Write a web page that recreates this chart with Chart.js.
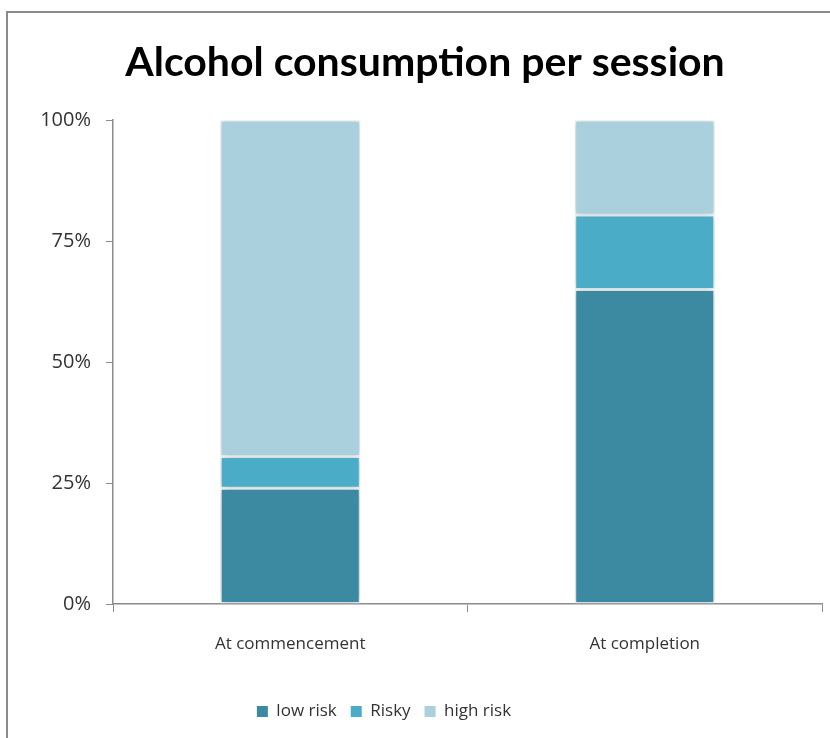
<!DOCTYPE html>
<html>
<head>
<meta charset="utf-8">
<style>
  html, body { margin: 0; padding: 0; background: #fff; overflow: hidden; }
  #wrap { position: absolute; left: 0; top: 0; width: 830px; height: 738px; }
</style>
<script src="https://cdn.jsdelivr.net/npm/chart.js@4"></script>
</head>
<body>
<div id="wrap"><canvas id="chart" width="830" height="738"></canvas></div>
<script>
// Share of respondents by alcohol risk level, per session (percent)
const categories = ['At commencement', 'At completion'];
const lowRisk  = [23.9, 65.0];
const risky    = [6.6, 15.4];
const highRisk = [69.5, 19.6];
const yTicks   = [0, 25, 50, 75, 100];

const FONT = "'Open Sans', 'Liberation Sans', sans-serif";

// Frame line along the top and left of the chart object
const framePlugin = {
  id: 'frame',
  beforeDraw(chart) {
    const ctx = chart.ctx;
    ctx.save();
    ctx.strokeStyle = '#8a8a8a';
    ctx.lineWidth = 2;
    ctx.beginPath();
    ctx.moveTo(7, 740);
    ctx.lineTo(7, 12);
    ctx.lineTo(832, 12);
    ctx.stroke();
    ctx.restore();
  }
};

// Soft shadow around the stacked columns
const shadowPlugin = {
  id: 'barShadow',
  beforeDatasetsDraw(chart) {
    const ctx = chart.ctx;
    ctx.save();
    ctx.shadowColor = 'rgba(0,0,0,0.25)';
    ctx.shadowBlur = 7;
    ctx.shadowOffsetX = 0;
    ctx.shadowOffsetY = 0;
  },
  afterDatasetsDraw(chart) {
    chart.ctx.restore();
  }
};

// The legend row sits a little left of the chart's centre line
const legendShift = {
  id: 'legendShift',
  afterLayout(chart) {
    const lg = chart.legend;
    if (lg) { lg.left -= 41; lg.right -= 41; }
  }
};

const barCommon = {
  borderColor: 'rgba(238,246,249,0.95)',
  borderWidth: 1.5,
  borderSkipped: false,
  categoryPercentage: 1.0,
  barPercentage: 0.395
};

new Chart(document.getElementById('chart'), {
  type: 'bar',
  data: {
    labels: categories,
    datasets: [
      Object.assign({ label: 'low risk',  data: lowRisk,  backgroundColor: '#3C8AA1' }, barCommon),
      Object.assign({ label: 'Risky',     data: risky,    backgroundColor: '#4AACC6' }, barCommon),
      Object.assign({ label: 'high risk', data: highRisk, backgroundColor: '#AACFDD' }, barCommon)
    ]
  },
  options: {
    responsive: false,
    animation: false,
    devicePixelRatio: 1,
    layout: { padding: { left: 28, right: 8, top: 0, bottom: 8 } },
    plugins: {
      title: {
        display: true,
        text: 'Alcohol consumption per session',
        color: '#000',
        font: { family: "Lato, 'Open Sans', sans-serif", size: 41, weight: 'bold' },
        padding: { top: 38, bottom: 33 }
      },
      legend: {
        position: 'bottom',
        labels: {
          color: '#333',
          font: { family: FONT, size: 17 },
          boxWidth: 11,
          boxHeight: 11,
          padding: 14,
          generateLabels(chart) {
            return chart.data.datasets.map((ds, i) => ({
              text: ds.label,
              fillStyle: ds.backgroundColor,
              strokeStyle: ds.backgroundColor,
              lineWidth: 0,
              datasetIndex: i,
              fontColor: '#333'
            }));
          }
        }
      },
      tooltip: { enabled: false }
    },
    scales: {
      x: {
        stacked: true,
        grid: {
          offset: true,
          drawOnChartArea: false,
          drawTicks: true,
          tickLength: 8,
          color: '#8c8c8c'
        },
        border: { color: '#8c8c8c', width: 1.5 },
        ticks: {
          color: '#333',
          font: { family: FONT, size: 17 },
          padding: 22
        },
        afterFit(scale) { scale.height = 85; }
      },
      y: {
        stacked: true,
        min: 0,
        max: 100,
        afterBuildTicks(scale) {
          scale.ticks = yTicks.map(v => ({ value: v }));
        },
        grid: {
          drawOnChartArea: false,
          drawTicks: true,
          tickLength: 7,
          color: '#8c8c8c'
        },
        border: { color: '#8c8c8c', width: 1.5 },
        ticks: {
          color: '#333',
          font: { family: FONT, size: 20 },
          padding: 15,
          callback: v => v + '%'
        },
        afterFit(scale) { scale.width = 85; }
      }
    }
  },
  plugins: [framePlugin, shadowPlugin, legendShift]
});
</script>
</body>
</html>
